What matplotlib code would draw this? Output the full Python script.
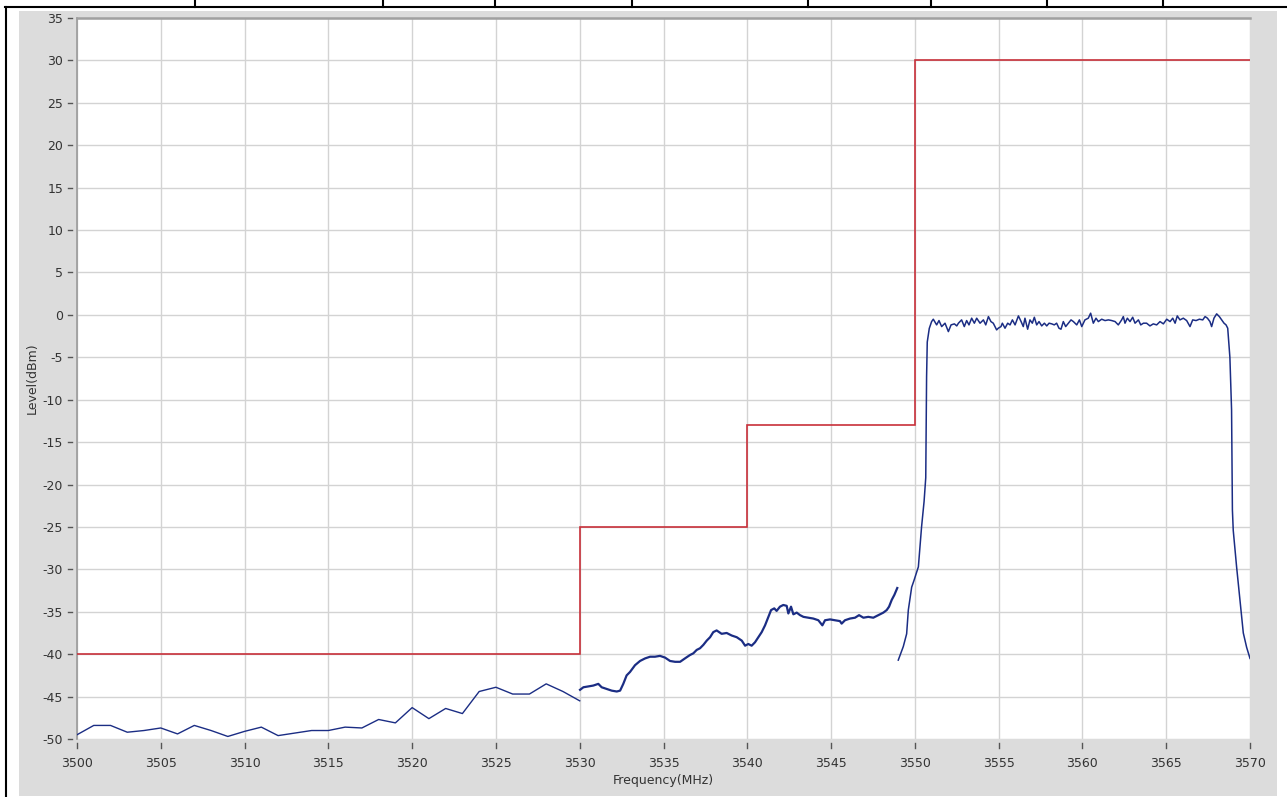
import matplotlib
matplotlib.use("Agg")
import matplotlib.pyplot as plt
from matplotlib.patches import Rectangle
from matplotlib.lines import Line2D
from matplotlib import transforms

# ---- spectrum emission mask (upper limit, dBm) ----
mask_edges = [3500, 3530, 3540, 3550, 3570]
mask_level = [-40, -25, -13, 30]

# ---- measured trace, coarse sweep below 3530 MHz ----
seg1_freq = list(range(3500, 3531))
seg1_level = [-49.5, -48.4, -48.4, -49.2, -49.0, -48.7, -49.4, -48.4, -49.0, -49.7,
              -49.1, -48.6, -49.6, -49.3, -49.0, -49.0, -48.6, -48.7, -47.7, -48.1,
              -46.3, -47.6, -46.4, -47.0, -44.4, -43.9, -44.7, -44.7, -43.5, -44.4,
              -45.5]

# ---- measured trace, fine sweep 3530 - 3549 MHz ----
seg2_freq = [3530.02, 3530.22, 3530.52, 3530.81, 3531.11, 3531.31, 3531.61, 3531.91,
             3532.21, 3532.41, 3532.60, 3532.80, 3533.00, 3533.30, 3533.60, 3533.90,
             3534.20, 3534.49, 3534.79, 3535.09, 3535.39, 3535.69, 3535.99, 3536.28,
             3536.58, 3536.78, 3536.98, 3537.18, 3537.38, 3537.58, 3537.78, 3537.97,
             3538.17, 3538.47, 3538.77, 3539.07, 3539.37, 3539.67, 3539.87, 3540.06,
             3540.26, 3540.46, 3540.66, 3540.86, 3541.06, 3541.26, 3541.42, 3541.61,
             3541.75, 3541.95, 3542.15, 3542.35, 3542.45, 3542.61, 3542.75, 3542.95,
             3543.15, 3543.35, 3543.64, 3543.94, 3544.24, 3544.48, 3544.64, 3544.94,
             3545.23, 3545.53, 3545.63, 3545.83, 3546.13, 3546.43, 3546.67, 3546.93,
             3547.22, 3547.52, 3547.82, 3548.12, 3548.32, 3548.46, 3548.62, 3548.78,
             3548.95]
seg2_level = [-44.2, -43.9, -43.8, -43.7, -43.5, -43.9, -44.1, -44.3,
              -44.4, -44.3, -43.5, -42.5, -42.1, -41.3, -40.8, -40.5,
              -40.3, -40.3, -40.2, -40.4, -40.8, -40.9, -40.9, -40.5,
              -40.1, -39.9, -39.5, -39.3, -38.9, -38.4, -38.0, -37.4,
              -37.2, -37.6, -37.5, -37.8, -38.0, -38.4, -39.0, -38.8,
              -39.0, -38.6, -38.0, -37.4, -36.6, -35.6, -34.8, -34.6,
              -34.9, -34.4, -34.2, -34.3, -35.2, -34.4, -35.3, -35.1,
              -35.4, -35.6, -35.7, -35.8, -36.0, -36.6, -36.0, -35.9,
              -36.0, -36.1, -36.4, -36.0, -35.8, -35.7, -35.4, -35.7,
              -35.6, -35.7, -35.4, -35.1, -34.8, -34.4, -33.6, -33.0,
              -32.2]

# ---- measured trace, in-band carrier 3549 - 3570 MHz ----
seg3_freq = [3549.01, 3549.31, 3549.51, 3549.61, 3549.81, 3549.95, 3550.21, 3550.40,
             3550.55, 3550.65, 3550.70, 3550.74, 3550.86,
             3551.00, 3551.10, 3551.30, 3551.44, 3551.60, 3551.80, 3552.00, 3552.16,
             3552.36, 3552.50, 3552.60, 3552.79, 3552.95, 3553.09, 3553.23, 3553.39,
             3553.55, 3553.69, 3553.89, 3554.09, 3554.23, 3554.39, 3554.54, 3554.68,
             3554.88, 3554.98, 3555.14, 3555.22, 3555.38, 3555.54, 3555.68, 3555.82,
             3555.98, 3556.18, 3556.34, 3556.47, 3556.57, 3556.73, 3556.87, 3557.01,
             3557.13, 3557.27, 3557.41, 3557.57, 3557.73, 3557.87, 3558.01, 3558.17,
             3558.32, 3558.46, 3558.60, 3558.72, 3558.86, 3559.00, 3559.16, 3559.32,
             3559.46, 3559.66, 3559.82, 3559.96, 3560.15, 3560.35, 3560.49, 3560.65,
             3560.81, 3560.95, 3561.15, 3561.35, 3561.55, 3561.75, 3561.95, 3562.14,
             3562.34, 3562.44, 3562.54, 3562.68, 3562.84, 3563.00, 3563.14, 3563.34,
             3563.48, 3563.64, 3563.83, 3564.03, 3564.23, 3564.43, 3564.63, 3564.83,
             3565.03, 3565.23, 3565.39, 3565.53, 3565.66, 3565.82, 3566.02, 3566.22,
             3566.42, 3566.58, 3566.78, 3566.98, 3567.18, 3567.32, 3567.46, 3567.61,
             3567.71, 3567.85, 3568.01, 3568.17, 3568.31, 3568.45, 3568.57, 3568.67,
             3568.80, 3568.90, 3568.95, 3569.00, 3569.20, 3569.40, 3569.60, 3569.80,
             3570.00]
seg3_level = [-40.7, -39.1, -37.6, -34.8, -32.1, -31.3, -29.7, -25.0,
              -22.0, -19.2, -7.3, -3.2, -1.6,
              -0.79, -0.51, -1.18, -0.67, -1.38, -0.98, -1.97, -1.18,
              -1.06, -1.30, -0.98, -0.59, -1.38, -0.67, -1.18, -0.39,
              -0.98, -0.39, -0.98, -0.59, -1.18, -0.20, -0.79, -0.98,
              -1.77, -1.57, -1.38, -0.98, -1.57, -0.98, -1.18, -0.59,
              -1.18, -0.12, -0.79, -1.38, -0.39, -1.69, -0.59, -0.98,
              -0.28, -1.18, -0.79, -1.30, -0.98, -1.30, -0.98, -1.06,
              -1.18, -0.98, -1.57, -1.69, -0.79, -1.38, -0.98, -0.59,
              -0.79, -1.18, -0.59, -1.38, -0.59, -0.39, 0.20, -0.98,
              -0.39, -0.79, -0.51, -0.67, -0.59, -0.67, -0.79, -1.18,
              -0.59, -0.20, -0.98, -0.39, -0.79, -0.28, -0.98, -0.59,
              -1.18, -0.98, -0.98, -1.30, -1.06, -1.18, -0.79, -1.06,
              -0.51, -0.79, -0.39, -0.98, -0.12, -0.59, -0.39, -0.67,
              -1.38, -0.59, -0.67, -0.51, -0.59, -0.20, -0.39, -0.79,
              -1.38, -0.39, 0.12, -0.20, -0.59, -0.98, -1.18, -1.57,
              -5.0, -11.2, -23.0, -25.4, -29.7, -33.6, -37.5, -39.2,
              -40.5]

x_ticks = list(range(3500, 3571, 5))
y_ticks = list(range(-50, 36, 5))

# ---- style ----
W, H, DPI = 1287, 797, 100
TRACE = "#1b2d84"
MASK = "#c8303a"
GRID = "#d3d3d3"
PANEL = "#dcdcdc"
TEXT = "#333333"
FS = 9

plt.rcParams["font.family"] = ["DejaVu Sans"]
plt.rcParams["axes.unicode_minus"] = False

fig = plt.figure(figsize=(W / DPI, H / DPI), dpi=DPI)
fig.patch.set_facecolor("white")

# grey chart panel behind the plot
fig.add_artist(Rectangle((19 / W, 1 - 796 / H), 1258 / W, 785 / H,
                         transform=fig.transFigure, facecolor=PANEL,
                         edgecolor="none", zorder=0))

# surrounding table rules
rule_y = 1 - 6.5 / H
fig.add_artist(Line2D([5 / W, 1], [rule_y, rule_y], transform=fig.transFigure,
                      color="black", lw=1.5, zorder=1))
fig.add_artist(Line2D([6 / W, 6 / W], [0, rule_y], transform=fig.transFigure,
                      color="black", lw=1.5, zorder=1))
for px in [195, 383, 495, 632, 808, 931, 1047, 1163]:
    fig.add_artist(Line2D([px / W, px / W], [rule_y, 1], transform=fig.transFigure,
                          color="black", lw=1.5, zorder=1))

ax = fig.add_axes([77 / W, 1 - 739 / H, 1173 / W, 721 / H])
ax.set_facecolor("white")
ax.set_zorder(2)

ax.set_xlim(3500, 3570)
ax.set_ylim(-50, 35)
ax.set_xticks(x_ticks)
ax.set_yticks(y_ticks)
ax.grid(True, color=GRID, lw=1.0)
ax.set_axisbelow(True)
ax.tick_params(axis="both", length=0, colors=TEXT, labelsize=FS)
ax.tick_params(axis="y", pad=10)
ax.tick_params(axis="x", pad=13)

for side in ["right", "bottom"]:
    ax.spines[side].set_visible(False)
ax.spines["left"].set_color("#9a9a9a")
ax.spines["left"].set_linewidth(1.2)
ax.spines["top"].set_color("#a0a0a0")
ax.spines["top"].set_linewidth(1.8)

# detached tick marks, as drawn by the analyser software
ytr = transforms.blended_transform_factory(ax.transAxes, ax.transData)
for v in y_ticks:
    ax.add_line(Line2D([-9.5 / 1173, -5.5 / 1173], [v, v], transform=ytr,
                       color="#555555", lw=1.0, clip_on=False))
xtr = transforms.blended_transform_factory(ax.transData, ax.transAxes)
for v in x_ticks:
    ax.add_line(Line2D([v, v], [-4 / 721, -9 / 721], transform=xtr,
                       color="#555555", lw=1.0, clip_on=False))

# limit mask
ax.stairs(mask_level, mask_edges, baseline=None, color=MASK, lw=1.2, zorder=3)

# measured spectrum
ax.plot(seg1_freq, seg1_level, color=TRACE, lw=1.0, zorder=4)
ax.plot(seg2_freq, seg2_level, color=TRACE, lw=1.6, zorder=4)
ax.plot(seg3_freq, seg3_level, color=TRACE, lw=1.1, zorder=4)

ax.set_xlabel("Frequency(MHz)", fontsize=FS, color=TEXT, labelpad=3)
ax.set_ylabel("Level(dBm)", fontsize=FS, color=TEXT, labelpad=3)

fig.savefig("out.png", dpi=DPI, facecolor="white")
